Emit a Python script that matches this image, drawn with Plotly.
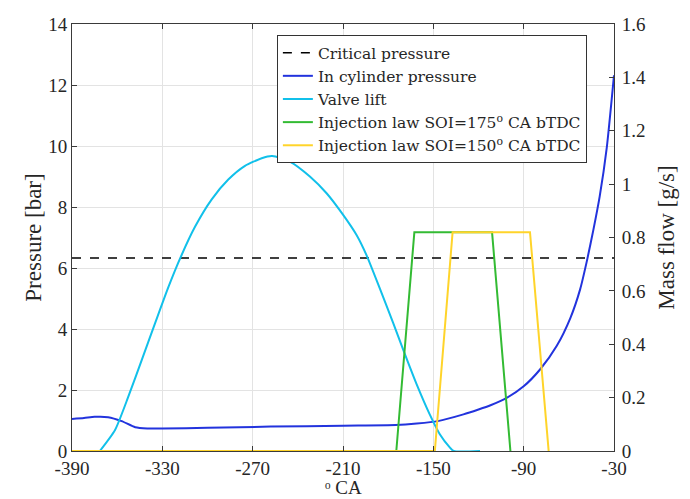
import plotly.graph_objects as go

# Reference (critical) pressure line [bar]
crit_x = [-390, -30]
crit_p = [6.33, 6.33]

# In-cylinder pressure [bar] vs crank angle [deg]
cyl_x = [-390, -382, -375, -366, -357, -348, -340, -330, -300, -258, -210, -175,
         -161, -147, -130, -120, -112, -101, -90, -79, -68, -59, -52.5, -47.7,
         -43.7, -39.5, -34.8, -30]
cyl_p = [1.05, 1.08, 1.12, 1.11, 0.98, 0.78, 0.74, 0.74, 0.76, 0.80, 0.83, 0.85,
         0.90, 0.98, 1.2, 1.36, 1.5, 1.75, 2.12, 2.68, 3.45, 4.36, 5.3, 6.3,
         7.25, 8.35, 9.95, 12.32]

# Valve lift (drawn on the pressure axis)
lift_x = [-371.5, -361.4, -352.6, -343.7, -334.8, -326, -317.6, -308.3, -297.2,
          -286.2, -275.1, -264, -257, -245.3, -232, -220.9, -209.9, -201,
          -194.4, -185.5, -176.7, -170.1, -161.2, -152.4, -145.7, -139.1,
          -136.5, -119]
lift_y = [0.0, 0.69, 1.78, 2.98, 4.19, 5.37, 6.38, 7.35, 8.25,
          8.9, 9.35, 9.6, 9.67, 9.49, 9.0, 8.45, 7.74, 7.08,
          6.42, 5.32, 4.2, 3.33, 2.2, 1.2, 0.55, 0.12,
          0.0, 0.0]

# Injection laws [g/s]
inj175_x = [-390, -174.6, -162.6, -111, -98.8]
inj175_m = [0, 0, 0.82, 0.82, 0]
inj150_x = [-390, -149, -137.2, -85.8, -73.4]
inj150_m = [0, 0, 0.82, 0.82, 0]

x_ticks = [-390, -330, -270, -210, -150, -90, -30]

FONT = "Liberation Serif"
LEG_FONT = "DejaVu Serif"
AXIS_COL = "#3a3a3a"
GRID_COL = "#e3e3e3"
LW = 2

fig = go.Figure()
fig.add_trace(go.Scatter(x=crit_x, y=crit_p, mode="lines", name="Critical pressure",
                         line=dict(color="black", width=1.6, dash="dash")))
fig.add_trace(go.Scatter(x=cyl_x, y=cyl_p, mode="lines", name="In cylinder pressure",
                         line=dict(color="#2233dd", width=LW, shape="spline", smoothing=0.6)))
fig.add_trace(go.Scatter(x=lift_x, y=lift_y, mode="lines", name="Valve lift",
                         line=dict(color="#11c0ea", width=LW, shape="spline", smoothing=0.6)))
fig.add_trace(go.Scatter(x=inj175_x, y=inj175_m, mode="lines", yaxis="y2",
                         name="Injection law SOI=175<sup>o</sup> CA bTDC",
                         line=dict(color="#33bb33", width=LW)))
fig.add_trace(go.Scatter(x=inj150_x, y=inj150_m, mode="lines", yaxis="y2",
                         name="Injection law SOI=150<sup>o</sup> CA bTDC",
                         line=dict(color="#ffd42a", width=LW)))

fig.update_layout(
    width=690, height=499,
    margin=dict(l=72, r=76, t=24, b=48, autoexpand=False),
    paper_bgcolor="white", plot_bgcolor="white",
    font=dict(family=FONT, size=19, color="#262626"),
    showlegend=True,
    legend=dict(x=0.378, y=0.974, xanchor="left", yanchor="top",
                bgcolor="white", bordercolor="#333333", borderwidth=1,
                font=dict(family=LEG_FONT, size=15.5, color="#262626"),
                tracegroupgap=0),
    xaxis=dict(range=[-390, -30], tickvals=x_ticks, ticktext=[str(v) for v in x_ticks],
               ticks="inside", ticklen=5, tickcolor=AXIS_COL, showline=True,
               linecolor=AXIS_COL, linewidth=1, mirror="ticks",
               showgrid=True, gridcolor=GRID_COL, zeroline=False, automargin=False,
               ticklabelstandoff=0),
    yaxis=dict(range=[0, 14], dtick=2, ticks="inside", ticklen=5, tickcolor=AXIS_COL,
               showline=True, linecolor=AXIS_COL, linewidth=1,
               showgrid=True, gridcolor=GRID_COL, zeroline=False, automargin=False,
               title=dict(text="Pressure [bar]", standoff=0)),
    yaxis2=dict(range=[0, 1.6], dtick=0.2, overlaying="y", side="right",
                ticks="inside", ticklen=5, tickcolor=AXIS_COL,
                showline=True, linecolor=AXIS_COL, linewidth=1,
                showgrid=False, zeroline=False, automargin=False,
                ticklabelstandoff=3,
                title=dict(text="Mass flow [g/s]", standoff=12)),
)

# Crank-angle axis title, placed below the tick labels
fig.add_annotation(text="\u1d52 CA", xref="paper", yref="paper",
                   x=0.5, y=-0.1124, xanchor="center", yanchor="bottom",
                   showarrow=False, borderpad=0,
                   font=dict(family=FONT, size=19, color="#262626"))

fig.write_html("out.html")
